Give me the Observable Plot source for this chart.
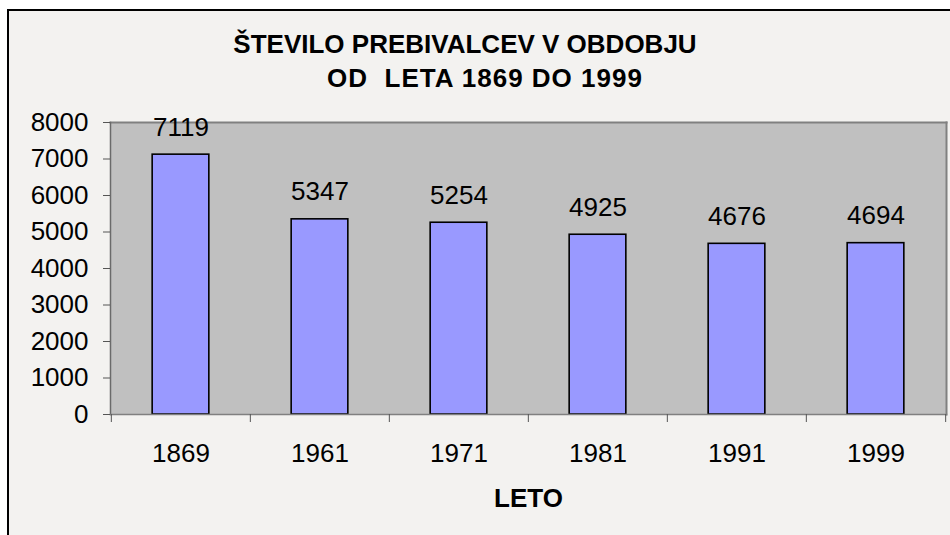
<!DOCTYPE html>
<html>
<head>
<meta charset="utf-8">
<script src="https://cdn.jsdelivr.net/npm/d3@7"></script>
<script src="https://cdn.jsdelivr.net/npm/@observablehq/plot@0.6"></script>
<style>
  html, body { margin: 0; padding: 0; background: #ffffff; overflow: hidden; width: 950px; height: 535px; }
  #bg { position: absolute; left: 7px; top: 9px; width: 960px; height: 540px;
        border-left: 2px solid #000; border-top: 2px solid #000; background: #F3F2F0; }
  .tl { position: absolute; left: 0; text-align: center; white-space: pre;
        font: bold 26px/34px "Liberation Sans", Arial, sans-serif; color: #000; }
  #t1 { top: 27px; width: 930px; }
  #t2 { top: 61px; width: 970px; letter-spacing: 1px; }
  #plot { position: absolute; left: 0; top: 95px; }
</style>
</head>
<body>
<div id="bg"></div>
<div id="t1" class="tl">ŠTEVILO PREBIVALCEV V OBDOBJU</div>
<div id="t2" class="tl">OD  LETA 1869 DO 1999</div>
<div id="plot"></div>
<script>
const years = ["1869", "1961", "1971", "1981", "1991", "1999"];
const population = [7119, 5347, 5254, 4925, 4676, 4694];
const yTicks = [0, 1000, 2000, 3000, 4000, 5000, 6000, 7000, 8000];
const xTitle = "LETO";

const data = years.map((year, i) => ({year, value: population[i]}));

const W = 950, H = 440, mL = 110, mR = 4, mT = 27, mB = 121;
const step = (W - mL - mR) / years.length;
const barW = 57;
const inset = (step - barW) / 2;
const font = "'Liberation Sans', Arial, sans-serif";

const chart = Plot.plot({
  width: W, height: H,
  marginLeft: mL, marginRight: mR, marginTop: mT, marginBottom: mB,
  style: {background: "transparent", fontFamily: font, fontSize: "26px", color: "#000", overflow: "visible"},
  x: {type: "band", domain: years, padding: 0},
  y: {domain: [0, 8000]},
  marks: [
    Plot.frame({fill: "#C0C0C0", stroke: null}),
    Plot.barY(data, {x: "year", y: "value", fill: "#9999FF", stroke: "#000", strokeWidth: 1.6, insetLeft: inset, insetRight: inset}),
    Plot.frame({anchor: "top", stroke: "#808080", strokeWidth: 2}),
    Plot.frame({anchor: "right", stroke: "#808080", strokeWidth: 2}),
    Plot.frame({anchor: "left", stroke: "#6a6a6a", strokeWidth: 1.5}),
    Plot.frame({anchor: "bottom", stroke: "#808080", strokeWidth: 1.5}),
    Plot.axisY({ticks: yTicks, tickSize: 7, tickPadding: 15, fontSize: 26, stroke: "#555", label: null, tickFormat: d => String(d)}),
    Plot.axisX({tickSize: 0, tickPadding: 29, fontSize: 26, label: null}),
    Plot.axisX({tickSize: 8, text: null, label: null, dx: -step / 2, stroke: "#555"}),
    Plot.axisX({ticks: [years[years.length - 1]], tickSize: 8, text: null, label: null, dx: step / 2, stroke: "#555"}),
    Plot.text(data, {x: "year", y: "value", text: d => String(d.value), dy: -19, lineAnchor: "bottom", fontSize: 26, fill: "#000"}),
    Plot.text([xTitle], {frameAnchor: "bottom", lineAnchor: "bottom", dy: 92, fontSize: 26, fontWeight: "bold", fill: "#000"})
  ]
});
document.getElementById("plot").appendChild(chart);
</script>
</body>
</html>
